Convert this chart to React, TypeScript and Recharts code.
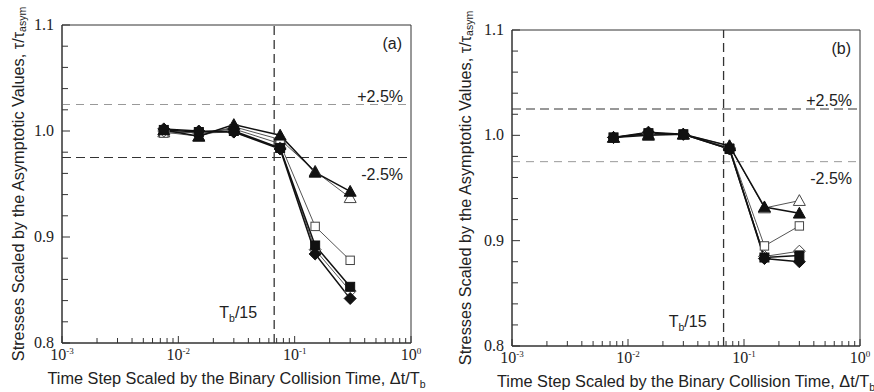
import React from 'react'
import { LineChart, Line, XAxis, YAxis, ReferenceLine, ReferenceArea } from 'recharts'

// time step scaled by the binary collision time
const dtSteps = [0.0075, 0.015, 0.03, 0.075, 0.15, 0.3]

// panel (a)
const aTriFilled = [1.001, 0.995, 1.006, 0.996, 0.961, 0.943]
const aTriOpen = [0.999, 0.995, 1.004, 0.992, 0.962, 0.937]
const aSqOpen = [0.998, 0.999, 1.002, 0.988, 0.910, 0.878]
const aSqFilled = [1.001, 0.999, 1.000, 0.984, 0.892, 0.853]
const aDiaOpen = [1.000, 0.998, 0.999, 0.984, 0.888, 0.849]
const aDiaFilled = [1.002, 1.000, 0.999, 0.983, 0.884, 0.842]

// panel (b)
const bTriOpen = [0.998, 1.001, 1.001, 0.990, 0.931, 0.938]
const bTriFilled = [0.998, 1.000, 1.001, 0.990, 0.932, 0.926]
const bSqOpen = [0.998, 1.002, 1.001, 0.988, 0.895, 0.914]
const bDiaOpen = [0.998, 1.002, 1.001, 0.988, 0.885, 0.890]
const bSqFilled = [0.998, 1.002, 1.001, 0.987, 0.884, 0.886]
const bDiaFilled = [0.998, 1.003, 1.001, 0.987, 0.883, 0.880]

const majorX = [0.001, 0.01, 0.1, 1]
const mantissas = [1, 2, 3, 4, 5, 6, 7, 8, 9]
const majorY = [0.8, 0.9, 1.0, 1.1]
const yTicks = [0.8, 0.82, 0.84, 0.86, 0.88, 0.9, 0.92, 0.94, 0.96, 0.98, 1.0, 1.02, 1.04, 1.06, 1.08, 1.1]
const tolerance = 0.025
const tbOver15 = 1 / 15

const xTicks = [...majorX.slice(0, 3).flatMap((d) => mantissas.map((m) => m * d)), 1]

const INK = '#111'
const AXIS = '#333'
const SANS = '"Liberation Sans", Arial, sans-serif'
const SERIF = '"Liberation Serif", "Times New Roman", serif'

type Shape = 'triangle' | 'square' | 'diamond'
interface Series { key: string; shape: Shape; filled: boolean; values: number[] }

const seriesA: Series[] = [
  { key: 'triOpen', shape: 'triangle', filled: false, values: aTriOpen },
  { key: 'sqOpen', shape: 'square', filled: false, values: aSqOpen },
  { key: 'diaOpen', shape: 'diamond', filled: false, values: aDiaOpen },
  { key: 'triFilled', shape: 'triangle', filled: true, values: aTriFilled },
  { key: 'sqFilled', shape: 'square', filled: true, values: aSqFilled },
  { key: 'diaFilled', shape: 'diamond', filled: true, values: aDiaFilled },
]

const seriesB: Series[] = [
  { key: 'triOpen', shape: 'triangle', filled: false, values: bTriOpen },
  { key: 'sqOpen', shape: 'square', filled: false, values: bSqOpen },
  { key: 'diaOpen', shape: 'diamond', filled: false, values: bDiaOpen },
  { key: 'triFilled', shape: 'triangle', filled: true, values: bTriFilled },
  { key: 'sqFilled', shape: 'square', filled: true, values: bSqFilled },
  { key: 'diaFilled', shape: 'diamond', filled: true, values: bDiaFilled },
]

function toRows(series: Series[]) {
  return dtSteps.map((dt, i) => {
    const row: Record<string, number> = { dt }
    series.forEach((s) => { row[s.key] = s.values[i] })
    return row
  })
}

function markerFor(shape: Shape, filled: boolean) {
  return (props: any) => {
    const { cx, cy, index } = props
    if (cx == null || cy == null) return <g key={index} />
    const fill = filled ? INK : '#fff'
    const stroke = filled ? INK : '#444'
    if (shape === 'triangle') {
      const r = 6
      const pts = `${cx},${cy - r} ${cx + r},${cy + r * 0.8} ${cx - r},${cy + r * 0.8}`
      return <polygon key={index} points={pts} fill={fill} stroke={stroke} strokeWidth={1} />
    }
    if (shape === 'square') {
      const s = filled ? 4.5 : 4.2
      return <rect key={index} x={cx - s} y={cy - s} width={s * 2} height={s * 2} fill={fill} stroke={stroke} strokeWidth={1} />
    }
    const r = 6
    const pts = `${cx},${cy - r} ${cx + r},${cy} ${cx},${cy + r} ${cx - r},${cy}`
    return <polygon key={index} points={pts} fill={fill} stroke={stroke} strokeWidth={1} />
  }
}

// inward ticks, labels only on the decades
function XTick(props: any) {
  const { x, y, payload } = props
  const v = payload.value as number
  const major = majorX.some((m) => Math.abs(m - v) < 1e-9)
  const exp = Math.round(Math.log10(v))
  return (
    <g>
      <line x1={x} x2={x} y1={y} y2={y - (major ? 7 : 5)} stroke={AXIS} strokeWidth={1} />
      {major && (
        <text x={x} y={y + 17} textAnchor="middle" fontFamily={SERIF} fontSize={16} fill="#222">
          10<tspan dy={-6} fontSize={9}>{exp}</tspan>
        </text>
      )}
    </g>
  )
}

function YTick(props: any) {
  const { x, y, payload } = props
  const v = payload.value as number
  const major = majorY.some((m) => Math.abs(m - v) < 1e-9)
  return (
    <g>
      <line x1={x} x2={x + (major ? 8 : 6)} y1={y} y2={y} stroke={AXIS} strokeWidth={1} />
      {major && (
        <text x={x - 8} y={y + 5} textAnchor="end" fontFamily={SERIF} fontSize={16} fill="#222">
          {v.toFixed(1)}
        </text>
      )}
    </g>
  )
}

interface PanelProps {
  tag: string
  series: Series[]
  plotLeft: number
  marginTop: number
  marginRight: number
  xAxisHeight: number
  yTitleX: number
  upperDark: boolean
  tbLabelDy: number
}

function Panel({ tag, series, plotLeft, marginTop, marginRight, xAxisHeight, yTitleX, upperDark, tbLabelDy }: PanelProps) {
  const rows = toRows(series)
  const dark = { stroke: '#333', strokeDasharray: '9 5', strokeWidth: 1.2 }
  const light = { stroke: '#999', strokeDasharray: '8 6', strokeWidth: 1 }

  return (
    <LineChart width={437} height={392} data={rows} margin={{ top: marginTop, right: marginRight, left: 0, bottom: 0 }}>
      <XAxis
        dataKey="dt"
        type="number"
        scale="log"
        domain={[0.001, 1]}
        ticks={xTicks}
        interval={0}
        allowDataOverflow
        height={xAxisHeight}
        tickSize={0}
        tickMargin={0}
        stroke={AXIS}
        tick={<XTick />}
        label={(p: any) => {
          const vb = p.viewBox
          return (
            <text x={vb.x + vb.width / 2} y={vb.y + 41} textAnchor="middle" fontFamily={SANS} fontSize={16.3} fill="#222">
              Time Step Scaled by the Binary Collision Time, Δt/T<tspan dy={4} fontSize={10.5}>b</tspan>
            </text>
          )
        }}
      />
      <YAxis
        type="number"
        domain={[0.8, 1.1]}
        ticks={yTicks}
        interval={0}
        allowDataOverflow
        width={plotLeft}
        tickSize={0}
        tickMargin={0}
        stroke={AXIS}
        tick={<YTick />}
        label={(p: any) => {
          const vb = p.viewBox
          const cy = vb.y + vb.height / 2
          return (
            <text x={yTitleX} y={cy} transform={`rotate(-90 ${yTitleX} ${cy})`} textAnchor="middle" dominantBaseline="central" fontFamily={SANS} fontSize={16.3} fill="#222">
              Stresses Scaled by the Asymptotic Values, τ/τ<tspan dy={4} fontSize={10.5}>asym</tspan>
            </text>
          )
        }}
      />
      {/* plot frame with the panel tag */}
      <ReferenceArea
        x1={0.001}
        x2={1}
        y1={0.8}
        y2={1.1}
        fill="none"
        stroke={AXIS}
        strokeWidth={1}
        label={(p: any) => {
          const vb = p.viewBox
          return (
            <text x={vb.x + vb.width - 9} y={vb.y + 24} textAnchor="end" fontFamily={SANS} fontSize={16} fill="#222">
              ({tag})
            </text>
          )
        }}
      />
      <ReferenceLine
        y={1 + tolerance}
        {...(upperDark ? dark : light)}
        label={(p: any) => {
          const vb = p.viewBox
          return (
            <text x={vb.x + vb.width - 8} y={vb.y - 3} textAnchor="end" fontFamily={SANS} fontSize={16} fill="#222">
              +2.5%
            </text>
          )
        }}
      />
      <ReferenceLine
        y={1 - tolerance}
        {...(upperDark ? light : dark)}
        label={(p: any) => {
          const vb = p.viewBox
          return (
            <text x={vb.x + vb.width - 8} y={vb.y + 22} textAnchor="end" fontFamily={SANS} fontSize={16} fill="#222">
              -2.5%
            </text>
          )
        }}
      />
      <ReferenceLine
        x={tbOver15}
        stroke="#333"
        strokeDasharray="9 5"
        strokeWidth={1.3}
        label={(p: any) => {
          const vb = p.viewBox
          return (
            <text x={vb.x - 17} y={vb.y + vb.height - tbLabelDy} textAnchor="end" fontFamily={SANS} fontSize={16} fill="#222">
              T<tspan dy={4} fontSize={10.5}>b</tspan><tspan dy={-4}>/15</tspan>
            </text>
          )
        }}
      />
      {series.map((s) => (
        <Line
          key={s.key}
          dataKey={s.key}
          type="linear"
          stroke={s.filled ? INK : '#555'}
          strokeWidth={s.filled ? 1.5 : 1}
          dot={markerFor(s.shape, s.filled)}
          activeDot={false}
          isAnimationActive={false}
        />
      ))}
    </LineChart>
  )
}

export default function App() {
  return (
    <div style={{ position: 'absolute', left: 0, top: 0, width: 874, height: 392, background: '#fff', display: 'flex' }}>
      <Panel tag="a" series={seriesA} plotLeft={62} marginTop={25} marginRight={26} xAxisHeight={49} yTitleX={18} upperDark={false} tbLabelDy={25} />
      <Panel tag="b" series={seriesB} plotLeft={75} marginTop={30} marginRight={14} xAxisHeight={46} yTitleX={28} upperDark tbLabelDy={19} />
    </div>
  )
}
